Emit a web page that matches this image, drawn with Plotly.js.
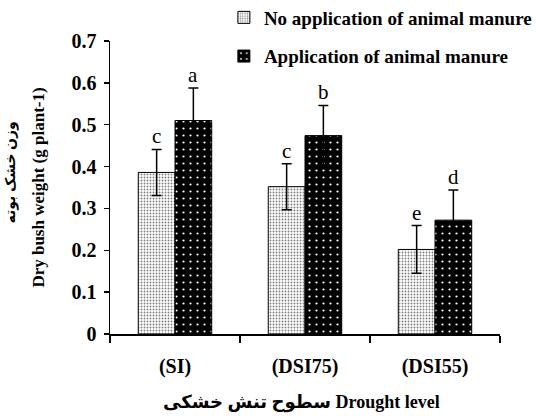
<!DOCTYPE html>
<html>
<head>
<meta charset="utf-8">
<script src="https://cdn.plot.ly/plotly-3.0.1.min.js"></script>
<style>html,body{margin:0;padding:0;background:#fff;}#chart{width:537px;height:416px;}</style>
</head>
<body>
<div id="chart"></div>
<script>
const categories = ["(SI)", "(DSI75)", "(DSI55)"];
const seriesNames = ["No application of animal manure", "Application of animal manure"];
const noManure = [0.386, 0.352, 0.202];
const noManureErr = [0.055, 0.055, 0.057];
const noManureLetters = ["c", "c", "e"];
const withManure = [0.510, 0.474, 0.272];
const withManureErr = [0.078, 0.072, 0.072];
const withManureLetters = ["a", "b", "d"];
const yTitleEn = "Dry bush weight (g plant-1)";
const yTitleFa = "وزن خشک بوته";
const xTitle = "سطوح تنش خشکی Drought level";

const serif = "Liberation Serif, Times New Roman, DejaVu Sans, serif";
const errStyle = (arr) => ({type: "data", array: arr, visible: true, color: "#000", thickness: 1.5, width: 5});

const traces = [
  {
    type: "bar", name: seriesNames[0], x: categories, y: noManure,
    error_y: errStyle(noManureErr), legendgroup: "g1",
    marker: {color: "#fff", line: {color: "#000", width: 1},
      pattern: {shape: ".", bgcolor: "#ffffff", fgcolor: "#808080", size: 3, solidity: 0.3, fillmode: "replace"}}
  },
  {
    type: "bar", name: seriesNames[1], x: categories, y: withManure,
    error_y: errStyle(withManureErr), legendgroup: "g2",
    marker: {color: "#000", line: {color: "#000", width: 1},
      pattern: {shape: ".", bgcolor: "#000000", fgcolor: "#ffffff", size: 7, solidity: 0.08, fillmode: "replace"}}
  }
];

const annotations = [];
const half = 18.4;
categories.forEach((c, i) => {
  annotations.push({x: c, y: noManure[i] + noManureErr[i], xref: "x", yref: "y", text: noManureLetters[i],
    showarrow: false, xshift: -half, yanchor: "bottom", yshift: -1, font: {family: serif, size: 21, color: "#000"}});
  annotations.push({x: c, y: withManure[i] + withManureErr[i], xref: "x", yref: "y", text: withManureLetters[i],
    showarrow: false, xshift: half, yanchor: "bottom", yshift: -1, font: {family: serif, size: 21, color: "#000"}});
});
annotations.push({x: 0.49, y: -0.235, xref: "paper", yref: "paper", text: "<b>" + xTitle + "</b>", showarrow: false,
  xanchor: "center", yanchor: "middle", font: {family: serif, size: 18, color: "#000"}});
annotations.push({x: -0.255, y: 0.55, xref: "paper", yref: "paper", text: "<b>" + yTitleFa + "</b>", showarrow: false,
  textangle: -90, xanchor: "center", yanchor: "middle", font: {family: serif, size: 14, color: "#000"}});

const layout = {
  width: 537, height: 416,
  margin: {l: 110, r: 37, t: 41, b: 82, autoexpand: false},
  paper_bgcolor: "#fff", plot_bgcolor: "#fff",
  font: {family: serif, color: "#000"},
  barmode: "group", bargap: 0.435, bargroupgap: 0,
  showlegend: true,
  legend: {x: 0.292, y: 1.145, xanchor: "left", yanchor: "top", traceorder: "grouped", tracegroupgap: 11,
    font: {family: serif, size: 19, color: "#000", weight: "bold"}, bgcolor: "rgba(0,0,0,0)"},
  xaxis: {
    type: "category", showline: true, linecolor: "#000", linewidth: 1.5, ticks: "outside", tickson: "boundaries",
    ticklen: 7, tickwidth: 1.5, tickcolor: "#000", showgrid: false, zeroline: false, automargin: false,
    tickfont: {family: serif, size: 20, color: "#000", weight: "bold"}, ticklabelstandoff: 13
  },
  yaxis: {
    range: [0, 0.7], dtick: 0.1, tick0: 0, showline: true, linecolor: "#000", linewidth: 1.5, ticks: "outside",
    ticklen: 5, tickwidth: 1.5, tickcolor: "#000", showgrid: false, zeroline: false, automargin: false,
    tickfont: {family: serif, size: 20, color: "#000", weight: "bold"}, ticklabelstandoff: 3,
    title: {text: "<b>" + yTitleEn + "</b>", font: {family: serif, size: 17, color: "#000"}, standoff: 22}
  },
  annotations: annotations
};

Plotly.newPlot("chart", traces, layout, {displayModeBar: false, staticPlot: true});
</script>
</body>
</html>
